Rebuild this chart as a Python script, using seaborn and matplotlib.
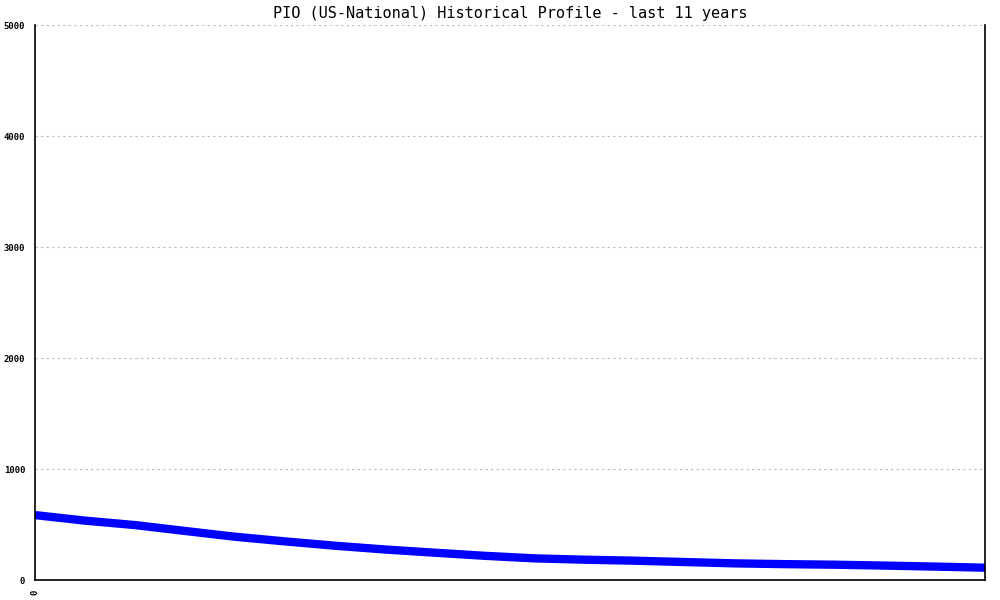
import pandas as pd
import matplotlib.pyplot as plt
import seaborn as sns

# profile values, evenly spaced over the 11 years
period = list(range(20))
count = [585, 535, 495, 442, 390, 348, 309, 275, 246, 218,
         195, 183, 174, 162, 150, 143, 138, 130, 121, 111]
yticks = [0, 1000, 2000, 3000, 4000, 5000]

df = pd.DataFrame({'period': period, 'count': count})

sns.set_style('white')
plt.rcParams['font.family'] = ['DejaVu Sans Mono']
plt.rcParams['text.color'] = 'black'
plt.rcParams['xtick.color'] = 'black'
plt.rcParams['ytick.color'] = 'black'

fig = plt.figure(figsize=(10, 6), dpi=100)
ax = fig.add_axes([0.035, 0.0333, 0.95, 0.925])

sns.lineplot(data=df, x='period', y='count', color='#0000ff', linewidth=6,
             solid_capstyle='butt', ax=ax)

ax.set_xlim(0, period[-1])
ax.set_ylim(0, 5000)
ax.set_yticks(yticks)
ax.set_yticklabels([str(t) for t in yticks], fontsize=6.5, fontweight='bold')
ax.set_xticks([0])
ax.set_xticklabels(['0'], rotation=90, fontsize=6.5, fontweight='bold')
ax.tick_params(axis='both', length=5, width=1, colors='black', pad=2, direction='out')
ax.yaxis.grid(True, linestyle=(0, (2, 3)), color='#bbbbbb', linewidth=0.8)
ax.set_axisbelow(True)

for s in ['left', 'bottom', 'right']:
    ax.spines[s].set_visible(True)
    ax.spines[s].set_color('black')
    ax.spines[s].set_linewidth(1.2)
ax.spines['top'].set_visible(False)

ax.set_xlabel('')
ax.set_ylabel('')
ax.set_title('PIO (US-National) Historical Profile - last 11 years',
             fontsize=11, pad=5, color='black')

fig.savefig('out.png')
